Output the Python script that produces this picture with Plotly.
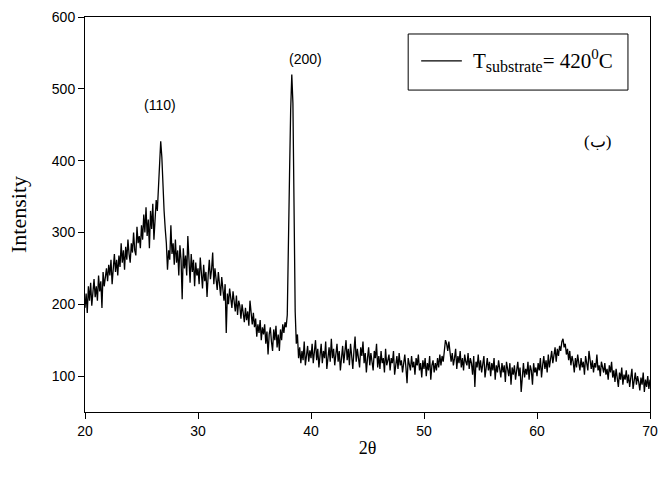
import plotly.graph_objects as go

two_theta = [round(20 + 0.1 * i, 1) for i in range(501)]

intensity = [
    195, 215, 188, 225, 205, 230, 198, 220, 235, 210,
    225, 205, 240, 218, 232, 195, 245, 225, 238, 250,
    232, 255, 240, 262, 228, 250, 270, 245, 262, 240,
    268, 252, 285, 258, 275, 248, 280, 262, 290, 270,
    258, 285, 272, 300, 275, 268, 308, 285, 295, 278,
    310, 290, 325, 300, 335, 295, 318, 278, 330, 305,
    340, 290, 322, 345, 330, 358, 400, 427, 405, 360,
    330, 305, 285, 248, 275, 262, 310, 270, 285, 255,
    290, 258, 275, 240, 282, 262, 207, 278, 250, 268,
    240, 295, 255, 230, 270, 245, 262, 225, 258, 240,
    250, 228, 265, 238, 222, 255, 232, 245, 210, 240,
    262, 235, 248, 272, 228, 250, 238, 220, 245, 230,
    212, 238, 225, 205, 228, 160, 215, 200, 222, 208,
    195, 218, 202, 190, 212, 185, 205, 198, 180, 200,
    188, 175, 195, 178, 190, 170, 205, 182, 172, 188,
    168, 180, 155, 172, 160, 178, 150, 168, 158, 172,
    145, 162, 130, 158, 168, 148, 135, 165, 150, 170,
    140, 158, 135, 165, 150, 172, 160, 175, 168, 185,
    260, 380, 470, 520, 480, 340, 190, 145, 158, 125,
    140, 118, 135, 122, 148, 115, 130, 142, 120, 136,
    125, 145, 118, 132, 150, 122, 138, 112, 128, 145,
    118, 135, 125, 148, 110, 130, 140, 120, 152, 125,
    138, 115, 130, 145, 120, 135, 108, 128, 142, 118,
    132, 150, 122, 138, 115, 145, 128, 110, 135, 155,
    120, 138, 125, 112, 140, 128, 148, 118, 132, 105,
    125, 140, 115, 132, 120, 108, 135, 125, 145, 112,
    128, 110, 135, 118, 125, 105, 138, 115, 122, 130,
    108, 125, 118, 135, 102, 120, 128, 110, 132, 115,
    122, 105, 118, 130, 112, 90, 125, 115, 108, 128,
    112, 120, 102, 125, 115, 130, 108, 118, 98, 122,
    110, 125, 100, 118, 108, 128, 95, 115, 122, 105,
    118, 108, 125, 112, 130, 115, 128, 120, 138, 150,
    145, 135, 148, 128, 120, 132, 115, 125, 138, 110,
    128, 118, 135, 112, 125, 108, 130, 120, 115, 132,
    110, 125, 118, 102, 128, 85, 120, 112, 130, 108,
    122, 105, 118, 128, 98, 115, 125, 108, 120, 100,
    118, 108, 125, 95, 115, 105, 122, 110, 98, 118,
    105, 115, 92, 120, 108, 100, 118, 88, 112, 102,
    115, 95, 108, 120, 100, 112, 78, 105, 118, 98,
    110, 102, 120, 95, 115, 108, 88, 118, 105, 112,
    100, 118, 108, 125, 98, 115, 128, 110, 122, 105,
    130, 112, 125, 135, 118, 132, 140, 120, 138, 128,
    142, 135, 148, 152, 140, 145, 130, 138, 122, 135,
    115, 128, 120, 105, 125, 112, 130, 118, 108, 125,
    112, 120, 102, 128, 115, 108, 135, 118, 110, 122,
    105, 118, 112, 130, 108, 115, 100, 120, 110, 105,
    118, 102, 110, 95, 115, 105, 120, 98, 108, 92,
    110, 100, 85, 105, 95, 112, 88, 102, 95, 108,
    90, 102, 85, 98, 110, 82, 95, 105, 88, 100,
    92, 80, 98, 88, 105, 78, 95, 85, 100, 82,
    95,
]

peak_labels = ["(110)", "(200)"]
peak_label_x = [26.6, 39.5]
peak_label_y = [477, 541]

series_name = ("T<sub><span style='font-size:16px'>substrate</span></sub>"
               "= 420<sup><span style='font-size:15px'>0</span></sup>C")

sans = "Liberation Sans, Arial, sans-serif"
serif = "Liberation Serif, Times New Roman, serif"

fig = go.Figure()
fig.add_trace(go.Scatter(
    x=two_theta, y=intensity, mode="lines", name="T substrate = 420 0C",
    line=dict(color="black", width=1.3), showlegend=False,
))

for txt, xx, yy in zip(peak_labels, peak_label_x, peak_label_y):
    fig.add_annotation(x=xx, y=yy, text=txt, showarrow=False,
                       font=dict(family=sans, size=14, color="black"))

fig.add_annotation(xref="paper", yref="paper", x=0.935, y=0.714, text="(ب)",
                   showarrow=False, font=dict(family=serif, size=17, color="black"))

# legend box, sample line and label
fig.add_shape(type="rect", xref="paper", yref="paper",
              x0=0.572, x1=0.961, y0=0.815, y1=0.957,
              line=dict(color="black", width=1), fillcolor="rgba(0,0,0,0)")
fig.add_shape(type="line", xref="paper", yref="paper",
              x0=0.595, x1=0.667, y0=0.889, y1=0.889,
              line=dict(color="black", width=1.3))
fig.add_annotation(xref="paper", yref="paper", x=0.683, y=0.889,
                   xanchor="left", yanchor="middle", text=series_name,
                   showarrow=False, font=dict(family=serif, size=21, color="black"))

axis_common = dict(
    showline=True, linecolor="black", linewidth=1, mirror=True,
    ticks="outside", ticklen=6, tickcolor="black", showgrid=False, zeroline=False,
    automargin=False,
    tickfont=dict(family=sans, size=14, color="black"),
)

fig.update_layout(
    width=659, height=483,
    margin=dict(l=85, r=9, t=17, b=71),
    paper_bgcolor="white", plot_bgcolor="white",
    showlegend=False,
    xaxis=dict(range=[20, 70], dtick=10, tick0=0,
               title=dict(text="2θ", font=dict(family=serif, size=18, color="black"), standoff=3),
               **axis_common),
    yaxis=dict(range=[50, 600], dtick=100, tick0=0,
               title=dict(text="Intensity", font=dict(family=serif, size=22, color="black"), standoff=19),
               **axis_common),
)

fig.write_html("out.html", config={"displayModeBar": False},
               post_script="document.body.style.margin='0';")
